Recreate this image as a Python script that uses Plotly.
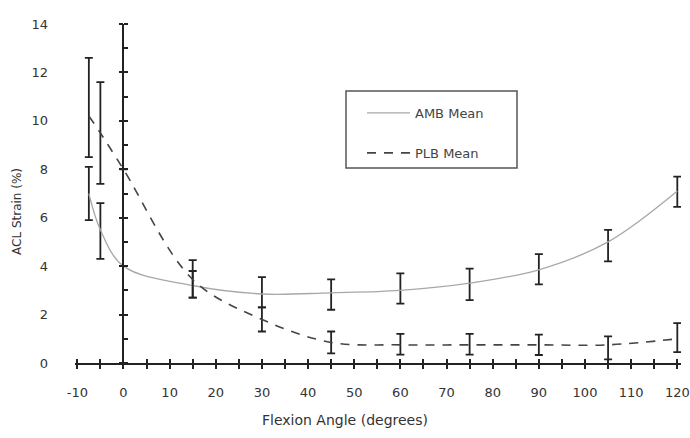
import plotly.graph_objects as go

# ---- data ----
ANGLES = [-7.5, -5, 0, 15, 30, 45, 60, 75, 90, 105, 120]

AMB_MEAN = [7.0, 5.5, 4.0, 3.2, 2.85, 2.9, 3.0, 3.3, 3.85, 5.0, 7.1]
AMB_PLUS = [1.1, 1.1, 0, 0.6, 0.7, 0.55, 0.7, 0.6, 0.65, 0.5, 0.6]
AMB_MINUS = [1.1, 1.2, 0, 0.5, 0.55, 0.7, 0.55, 0.7, 0.6, 0.8, 0.65]

PLB_MEAN = [10.2, 9.5, 8.0, 3.45, 1.8, 0.85, 0.75, 0.75, 0.75, 0.75, 1.0]
PLB_PLUS = [2.4, 2.1, 0, 0.8, 0.5, 0.45, 0.45, 0.45, 0.42, 0.35, 0.65]
PLB_MINUS = [1.7, 2.1, 0, 0.75, 0.5, 0.45, 0.4, 0.4, 0.42, 0.6, 0.55]

X_TICKS = list(range(-10, 121, 10))
X_TICK_TEXT = [str(v) for v in X_TICKS]
Y_TICKS = list(range(0, 15, 2))
X_RANGE = [-10.5, 120.8]
Y_RANGE = [0, 14]

FONT = "DejaVu Sans, Liberation Sans, Arial, sans-serif"
INK = "#222222"

# page geometry (body margin removed via post_script)
W, H = 690, 438
L, R, T, B = 75, 9, 24, 75
PW, PH = W - L - R, H - T - B


def px(xpage):
    return (xpage - L) / PW


def py(ypage):
    return 1 - (ypage - T) / PH


fig = go.Figure()

fig.add_trace(go.Scatter(
    x=ANGLES, y=AMB_MEAN, name="AMB Mean", mode="lines",
    line=dict(color="#a8a8a8", width=1.3, shape="spline", smoothing=1),
    error_y=dict(type="data", symmetric=False, array=AMB_PLUS, arrayminus=AMB_MINUS,
                 color=INK, thickness=1.8, width=4),
    legendgroup="a", cliponaxis=False,
))
fig.add_trace(go.Scatter(
    x=ANGLES, y=PLB_MEAN, name="PLB Mean", mode="lines",
    line=dict(color="#444444", width=1.6, dash="9px,8px", shape="spline", smoothing=1),
    error_y=dict(type="data", symmetric=False, array=PLB_PLUS, arrayminus=PLB_MINUS,
                 color=INK, thickness=1.8, width=4),
    legendgroup="b", cliponaxis=False,
))

# empty helper traces so the overlaid axes (crossing ticks, y axis at x=0) are drawn
for xa, ya in [("x", "y2"), ("x", "y3"), ("x2", "y")]:
    fig.add_trace(go.Scatter(x=[None], y=[None], xaxis=xa, yaxis=ya, mode="lines",
                             showlegend=False, hoverinfo="skip"))

x_pos_of_zero = (0 - X_RANGE[0]) / (X_RANGE[1] - X_RANGE[0])

tick_common = dict(ticklen=4, tickwidth=1.5, tickcolor=INK)

fig.update_layout(
    width=W, height=H,
    margin=dict(l=L, r=R, t=T, b=B, autoexpand=False),
    paper_bgcolor="white", plot_bgcolor="white",
    font=dict(family=FONT, color="#333333", size=13),
    showlegend=True,
    legend=dict(x=px(362), y=py(98), xanchor="left", yanchor="top",
                bgcolor="rgba(0,0,0,0)", borderwidth=0,
                font=dict(size=13, color="#444444", family=FONT),
                tracegroupgap=20, itemwidth=43),
    xaxis=dict(range=X_RANGE, tickvals=X_TICKS, ticktext=X_TICK_TEXT, showgrid=False,
               zeroline=False, showline=True, linecolor=INK, linewidth=1.5,
               ticks="outside", **tick_common,
               minor=dict(dtick=5, tick0=0, ticks="outside", **tick_common),
               tickfont=dict(size=13, color="#333333"), ticklabelstandoff=13),
    xaxis2=dict(range=X_RANGE, overlaying="x", anchor="y", side="bottom", showgrid=False,
                zeroline=False, showline=False, showticklabels=False,
                tickvals=X_TICKS, ticks="inside", **tick_common,
                minor=dict(dtick=5, tick0=0, ticks="inside", **tick_common)),
    yaxis=dict(range=Y_RANGE, tickvals=Y_TICKS, showgrid=False, zeroline=False,
               showline=False, ticks="", tickfont=dict(size=13, color="#333333"),
               ticklabelstandoff=26),
    yaxis2=dict(range=Y_RANGE, overlaying="y", anchor="free", position=x_pos_of_zero,
                side="left", showgrid=False, zeroline=False, showticklabels=False,
                showline=True, linecolor=INK, linewidth=1.8,
                tickvals=Y_TICKS, ticks="outside", **tick_common,
                minor=dict(dtick=1, tick0=0, ticks="inside", **tick_common)),
    yaxis3=dict(range=Y_RANGE, overlaying="y", anchor="free", position=x_pos_of_zero,
                side="left", showgrid=False, zeroline=False, showticklabels=False,
                showline=False, tickvals=Y_TICKS, ticks="inside", **tick_common),
    shapes=[dict(type="rect", xref="paper", yref="paper",
                 x0=px(346), x1=px(517), y0=py(168), y1=py(91),
                 line=dict(color="#555555", width=1.5), fillcolor="rgba(0,0,0,0)")],
    annotations=[
        dict(text="ACL Strain (%)", xref="paper", yref="paper", textangle=-90,
             x=px(17), y=py(211), xanchor="center", yanchor="middle", showarrow=False,
             font=dict(size=12, color="#333333")),
        dict(text="Flexion Angle (degrees)", xref="paper", yref="paper",
             x=px(345), y=py(420), xanchor="center", yanchor="middle", showarrow=False,
             font=dict(size=14, color="#333333")),
    ],
)

fig.write_html(
    "out.html",
    config={"displayModeBar": False},
    post_script="document.body.style.margin='0';document.body.style.overflow='hidden';",
)
